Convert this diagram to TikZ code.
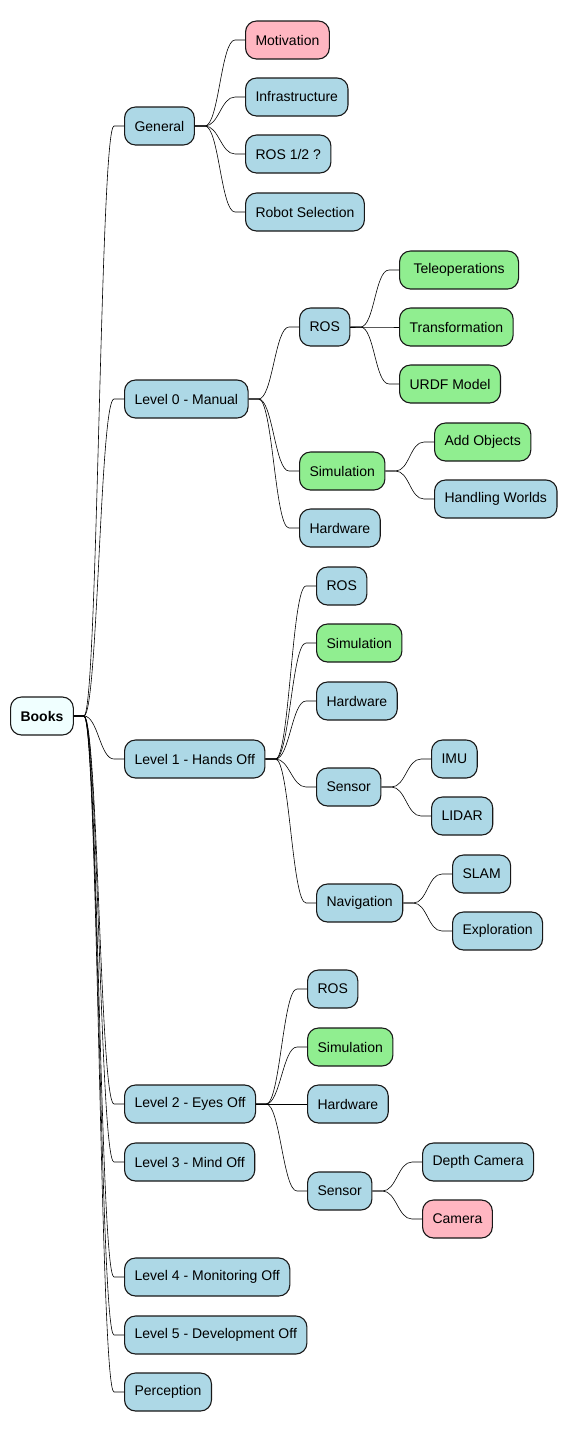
\documentclass[tikz,border=0pt]{standalone}
\usepackage{fontspec}
\setmainfont{Liberation Sans}
\usetikzlibrary{positioning}
\definecolor{FillTopic}{HTML}{ADD8E6}
\definecolor{FillDone}{HTML}{90EE90}
\definecolor{FillTodo}{HTML}{FFB6C1}
\definecolor{FillRoot}{HTML}{F0FFFF}
\definecolor{EdgeLine}{HTML}{181818}

\begin{document}
\begin{tikzpicture}[
    x=1pt, y=-1pt,
    topic/.style={draw=EdgeLine, line width=1.1pt, rounded corners=11pt, fill=FillTopic, anchor=west,
        minimum height=38pt, inner xsep=10pt, font=\fontsize{14}{16}\selectfont},
    done/.style={topic, fill=FillDone},
    todo/.style={topic, fill=FillTodo},
    rootnode/.style={topic, fill=FillRoot, font=\fontsize{14}{16}\selectfont\bfseries},
    link/.style={draw=black, line width=0.6pt}
  ]
    \useasboundingbox (0,0) rectangle (568,1432);
    % root
    \node[rootnode] (books) at (10,716) {Books};
    % general
    \node[topic] (general) at (124,126) {General};
    \node[todo]  (motiv)   at (245,40)  {Motivation};
    \node[topic] (infra)   at (245,97)  {Infrastructure};
    \node[topic] (rosver)  at (245,154) {ROS 1/2 ?};
    \node[topic] (robsel)  at (245,212) {Robot Selection};
    % level 0
    \node[topic] (lvlzero) at (124,399) {Level 0 - Manual};
    \node[topic] (zros)    at (299,327) {ROS};
    \node[done, minimum width=119] (teleop) at (399,270) {Teleoperations};
    \node[done]  (transf)  at (399,327) {Transformation};
    \node[done]  (urdf)    at (399,384) {URDF Model};
    \node[done]  (zsim)    at (299,471) {Simulation};
    \node[done]  (addobj)  at (434,442) {Add Objects};
    \node[topic] (worlds)  at (434,499) {Handling Worlds};
    \node[topic] (zhw)     at (299,528) {Hardware};
    % level 1
    \node[topic] (lvlone)  at (124,759) {Level 1 - Hands Off};
    \node[topic] (oros)    at (316,586) {ROS};
    \node[done]  (osim)    at (316,643) {Simulation};
    \node[topic] (ohw)     at (316,701) {Hardware};
    \node[topic] (osensor) at (316,787) {Sensor};
    \node[topic] (imu)     at (431,759) {IMU};
    \node[topic] (lidar)   at (431,816) {LIDAR};
    \node[topic] (onav)    at (316,903) {Navigation};
    \node[topic] (slam)    at (452,874) {SLAM};
    \node[topic] (explor)  at (452,931) {Exploration};
    % level 2
    \node[topic] (lvltwo)  at (124,1104) {Level 2 - Eyes Off};
    \node[topic] (tros)    at (307,989)  {ROS};
    \node[done]  (tsim)    at (307,1047) {Simulation};
    \node[topic] (thw)     at (307,1104) {Hardware};
    \node[topic] (tsensor) at (307,1191) {Sensor};
    \node[topic] (depthcam) at (422,1162) {Depth Camera};
    \node[todo]  (camera)  at (422,1219) {Camera};
    % levels 3-5
    \node[topic] (lvlthree) at (124,1162) {Level 3 - Mind Off};
    \node[topic] (lvlfour)  at (124,1277) {Level 4 - Monitoring Off};
    \node[topic] (lvlfive)  at (124,1335) {Level 5 - Development Off};
    \node[topic] (percep)   at (124,1392) {Perception};
    % branches
    \foreach \p/\c in {books/general, books/lvlzero, books/lvlone, books/lvltwo, books/lvlthree,
        books/lvlfour, books/lvlfive, books/percep,
        general/motiv, general/infra, general/rosver, general/robsel,
        lvlzero/zros, lvlzero/zsim, lvlzero/zhw, zros/teleop, zros/transf, zros/urdf,
        zsim/addobj, zsim/worlds,
        lvlone/oros, lvlone/osim, lvlone/ohw, lvlone/osensor, lvlone/onav,
        osensor/imu, osensor/lidar, onav/slam, onav/explor,
        lvltwo/tros, lvltwo/tsim, lvltwo/thw, lvltwo/tsensor,
        tsensor/depthcam, tsensor/camera}
      \draw[link] (\p.east) -- ++(10,0) .. controls +(14,0) and +(-14,0) .. ([xshift=-10pt]\c.west) -- (\c.west);
\end{tikzpicture}
\end{document}
